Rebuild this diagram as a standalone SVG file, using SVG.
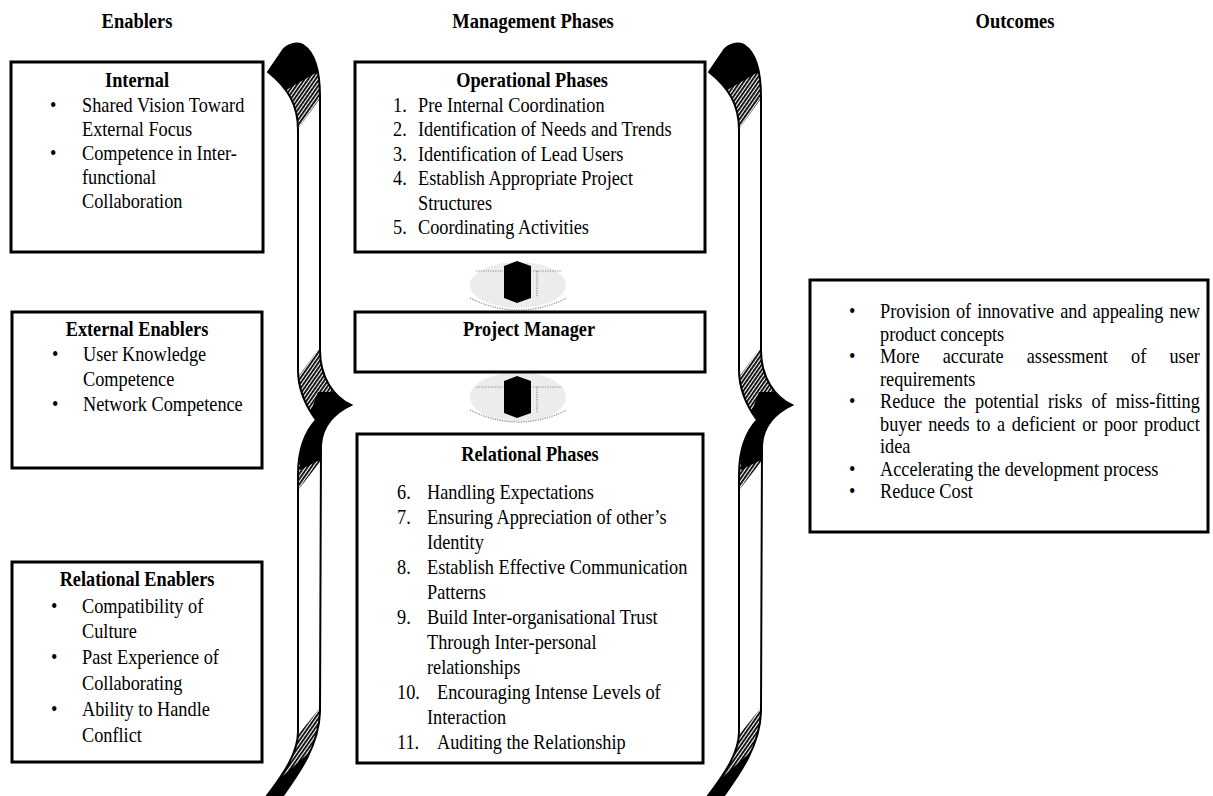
<svg xmlns="http://www.w3.org/2000/svg" width="1213" height="796" viewBox="0 0 1213 796">
<style>
.box{fill:#fff;stroke:#000;stroke-width:3}
.t{font-family:"Liberation Serif","Times New Roman",serif;font-size:21px;fill:#000}
.h{font-family:"Liberation Serif","Times New Roman",serif;font-size:22px;font-weight:bold;fill:#000;text-anchor:middle}
.b{font-weight:bold}
.m{text-anchor:middle}
.glow{fill:#ececec}
.dot{fill:none;stroke:#8a8a8a;stroke-width:1.2;stroke-dasharray:1.2 1.2}
.arr{fill:#000}
</style>
<defs>
<path id="braceShape" d="M268,72 L283,50 C288,44 296,42 303,45 C314,52 320,70 320,97 L320,350 C320,378 334,397 351,405 C336,412 322,425 321,445 L320,712 C319,745 300,772 282,797 L266,797 C285,772 298,752 298,732 L298,475 C298,450 305,432 316,420 C305,405 298,390 298,370 L298,130 C298,105 288,88 268,72 Z"/>
<clipPath id="braceClip"><use href="#braceShape"/></clipPath>
<pattern id="hatch" width="3" height="3" patternUnits="userSpaceOnUse" patternTransform="rotate(35)"><rect width="3" height="3" fill="#fff"/><rect width="1.8" height="3" fill="#000"/></pattern>
<g id="braceArt">
<use href="#braceShape" fill="#fff"/>
<g clip-path="url(#braceClip)">
<polygon points="250,30 340,30 340,71 250,195" fill="url(#hatch)"/>
<polygon points="250,30 340,30 340,59 250,111" fill="#000"/>
<polygon points="280,401.5 360,292.6 360,411 280,513" fill="url(#hatch)"/>
<polygon points="318,392 360,392 360,440 300,470 300,440" fill="#000"/>
<polygon points="250,794 340,683 340,800 250,800" fill="url(#hatch)"/>
<polygon points="250,805 340,725 340,800 250,800" fill="#000"/>
</g>
<use href="#braceShape" fill="none" stroke="#000" stroke-width="2"/>
</g>
</defs>
<rect width="1213" height="796" fill="#fff"/>

<g id="headers">
<text class="h" transform="matrix(0.84 0 0 1 137 28)">Enablers</text>
<text class="h" transform="matrix(0.84 0 0 1 533 28)">Management Phases</text>
<text class="h" transform="matrix(0.84 0 0 1 1015 28)">Outcomes</text>
</g>

<g id="brace-left"><use href="#braceArt"/></g>
<g id="brace-right"><use href="#braceArt" transform="translate(441,0)"/></g>

<g id="connectors">
<g id="arrow-op-pm">
<ellipse class="glow" cx="518" cy="285" rx="48" ry="23"/>
<path class="dot" d="M476,271 H503 M533,271 H562 M537,271 V297 M470,298 Q518,322 567,298"/>
<polygon class="arr" points="517,261 531,266 531,298 517,303 504,298 504,266"/>
</g>
<g id="arrow-pm-rel">
<ellipse class="glow" cx="518" cy="397" rx="48" ry="25"/>
<path class="dot" d="M476,387 H503 M533,387 H562 M537,387 V412 M470,410 Q518,434 567,410"/>
<polygon class="arr" points="517,376 531,381 531,413 517,418 504,413 504,381"/>
</g>
</g>

<g id="internal">
<rect class="box" x="11" y="62" width="252" height="190"/>
<text class="t b m" transform="matrix(0.87 0 0 1 137 87)">Internal</text>
<text class="t" transform="matrix(0.87 0 0 1 50 112)">•</text>
<text class="t" transform="matrix(0.87 0 0 1 82 112)">Shared Vision Toward</text>
<text class="t" transform="matrix(0.87 0 0 1 82 136)">External Focus</text>
<text class="t" transform="matrix(0.87 0 0 1 50 160)">•</text>
<text class="t" transform="matrix(0.87 0 0 1 82 160)">Competence in Inter-</text>
<text class="t" transform="matrix(0.87 0 0 1 82 184)">functional</text>
<text class="t" transform="matrix(0.87 0 0 1 82 208)">Collaboration</text>
</g>

<g id="external-enablers">
<rect class="box" x="12" y="312" width="250" height="156"/>
<text class="t b m" transform="matrix(0.87 0 0 1 137 336)">External Enablers</text>
<text class="t" transform="matrix(0.87 0 0 1 52 361)">•</text>
<text class="t" transform="matrix(0.87 0 0 1 83 361)">User Knowledge</text>
<text class="t" transform="matrix(0.87 0 0 1 83 386)">Competence</text>
<text class="t" transform="matrix(0.87 0 0 1 52 411)">•</text>
<text class="t" transform="matrix(0.87 0 0 1 83 411)">Network Competence</text>
</g>

<g id="relational-enablers">
<rect class="box" x="12" y="562" width="250" height="200"/>
<text class="t b m" transform="matrix(0.87 0 0 1 137 586)">Relational Enablers</text>
<text class="t" transform="matrix(0.87 0 0 1 51 613)">•</text>
<text class="t" transform="matrix(0.87 0 0 1 82 613)">Compatibility of</text>
<text class="t" transform="matrix(0.87 0 0 1 82 638)">Culture</text>
<text class="t" transform="matrix(0.87 0 0 1 51 664)">•</text>
<text class="t" transform="matrix(0.87 0 0 1 82 664)">Past Experience of</text>
<text class="t" transform="matrix(0.87 0 0 1 82 690)">Collaborating</text>
<text class="t" transform="matrix(0.87 0 0 1 51 716)">•</text>
<text class="t" transform="matrix(0.87 0 0 1 82 716)">Ability to Handle</text>
<text class="t" transform="matrix(0.87 0 0 1 82 742)">Conflict</text>
</g>

<g id="operational-phases">
<rect class="box" x="355" y="62" width="350" height="190"/>
<text class="t b m" transform="matrix(0.87 0 0 1 532 87)">Operational Phases</text>
<text class="t" transform="matrix(0.87 0 0 1 393 111.5)">1.</text>
<text class="t" transform="matrix(0.87 0 0 1 418 111.5)">Pre Internal Coordination</text>
<text class="t" transform="matrix(0.87 0 0 1 393 136)">2.</text>
<text class="t" transform="matrix(0.87 0 0 1 418 136)">Identification of Needs and Trends</text>
<text class="t" transform="matrix(0.87 0 0 1 393 160.5)">3.</text>
<text class="t" transform="matrix(0.87 0 0 1 418 160.5)">Identification of Lead Users</text>
<text class="t" transform="matrix(0.87 0 0 1 393 185)">4.</text>
<text class="t" transform="matrix(0.87 0 0 1 418 185)">Establish Appropriate Project</text>
<text class="t" transform="matrix(0.87 0 0 1 418 209.5)">Structures</text>
<text class="t" transform="matrix(0.87 0 0 1 393 234)">5.</text>
<text class="t" transform="matrix(0.87 0 0 1 418 234)">Coordinating Activities</text>
</g>

<g id="project-manager">
<rect class="box" x="355" y="312" width="350" height="60"/>
<text class="t b m" transform="matrix(0.87 0 0 1 529 336)">Project Manager</text>
</g>

<g id="relational-phases">
<rect class="box" x="357" y="434" width="346" height="329"/>
<text class="t b m" transform="matrix(0.87 0 0 1 530 461)">Relational Phases</text>
<text class="t" transform="matrix(0.87 0 0 1 397 499)">6.</text>
<text class="t" transform="matrix(0.87 0 0 1 427 499)">Handling Expectations</text>
<text class="t" transform="matrix(0.87 0 0 1 397 524)">7.</text>
<text class="t" transform="matrix(0.87 0 0 1 427 524)">Ensuring Appreciation of other’s</text>
<text class="t" transform="matrix(0.87 0 0 1 427 549)">Identity</text>
<text class="t" transform="matrix(0.87 0 0 1 397 574)">8.</text>
<text class="t" transform="matrix(0.87 0 0 1 427 574)">Establish Effective Communication</text>
<text class="t" transform="matrix(0.87 0 0 1 427 599)">Patterns</text>
<text class="t" transform="matrix(0.87 0 0 1 397 624)">9.</text>
<text class="t" transform="matrix(0.87 0 0 1 427 624)">Build Inter-organisational Trust</text>
<text class="t" transform="matrix(0.87 0 0 1 427 649)">Through Inter-personal</text>
<text class="t" transform="matrix(0.87 0 0 1 427 674)">relationships</text>
<text class="t" transform="matrix(0.87 0 0 1 397 699)">10.</text>
<text class="t" transform="matrix(0.87 0 0 1 437 699)">Encouraging Intense Levels of</text>
<text class="t" transform="matrix(0.87 0 0 1 427 724)">Interaction</text>
<text class="t" transform="matrix(0.87 0 0 1 397 749)">11.</text>
<text class="t" transform="matrix(0.87 0 0 1 437 749)">Auditing the Relationship</text>
</g>

<g id="outcomes">
<rect class="box" x="810" y="280" width="398" height="252"/>
<text class="t" transform="matrix(0.87 0 0 1 849 318)">•</text>
<text class="t" transform="matrix(0.87 0 0 1 880 318)" word-spacing="1.6">Provision of innovative and appealing new</text>
<text class="t" transform="matrix(0.87 0 0 1 880 340.5)">product concepts</text>
<text class="t" transform="matrix(0.87 0 0 1 849 363)">•</text>
<text class="t" transform="matrix(0.87 0 0 1 880 363)" word-spacing="21.4">More accurate assessment of user</text>
<text class="t" transform="matrix(0.87 0 0 1 880 385.5)">requirements</text>
<text class="t" transform="matrix(0.87 0 0 1 849 408)">•</text>
<text class="t" transform="matrix(0.87 0 0 1 880 408)" word-spacing="5.1">Reduce the potential risks of miss-fitting</text>
<text class="t" transform="matrix(0.87 0 0 1 880 430.5)" word-spacing="2.3">buyer needs to a deficient or poor product</text>
<text class="t" transform="matrix(0.87 0 0 1 880 453)">idea</text>
<text class="t" transform="matrix(0.87 0 0 1 849 475.5)">•</text>
<text class="t" transform="matrix(0.87 0 0 1 880 475.5)">Accelerating the development process</text>
<text class="t" transform="matrix(0.87 0 0 1 849 498)">•</text>
<text class="t" transform="matrix(0.87 0 0 1 880 498)">Reduce Cost</text>
</g>
</svg>
